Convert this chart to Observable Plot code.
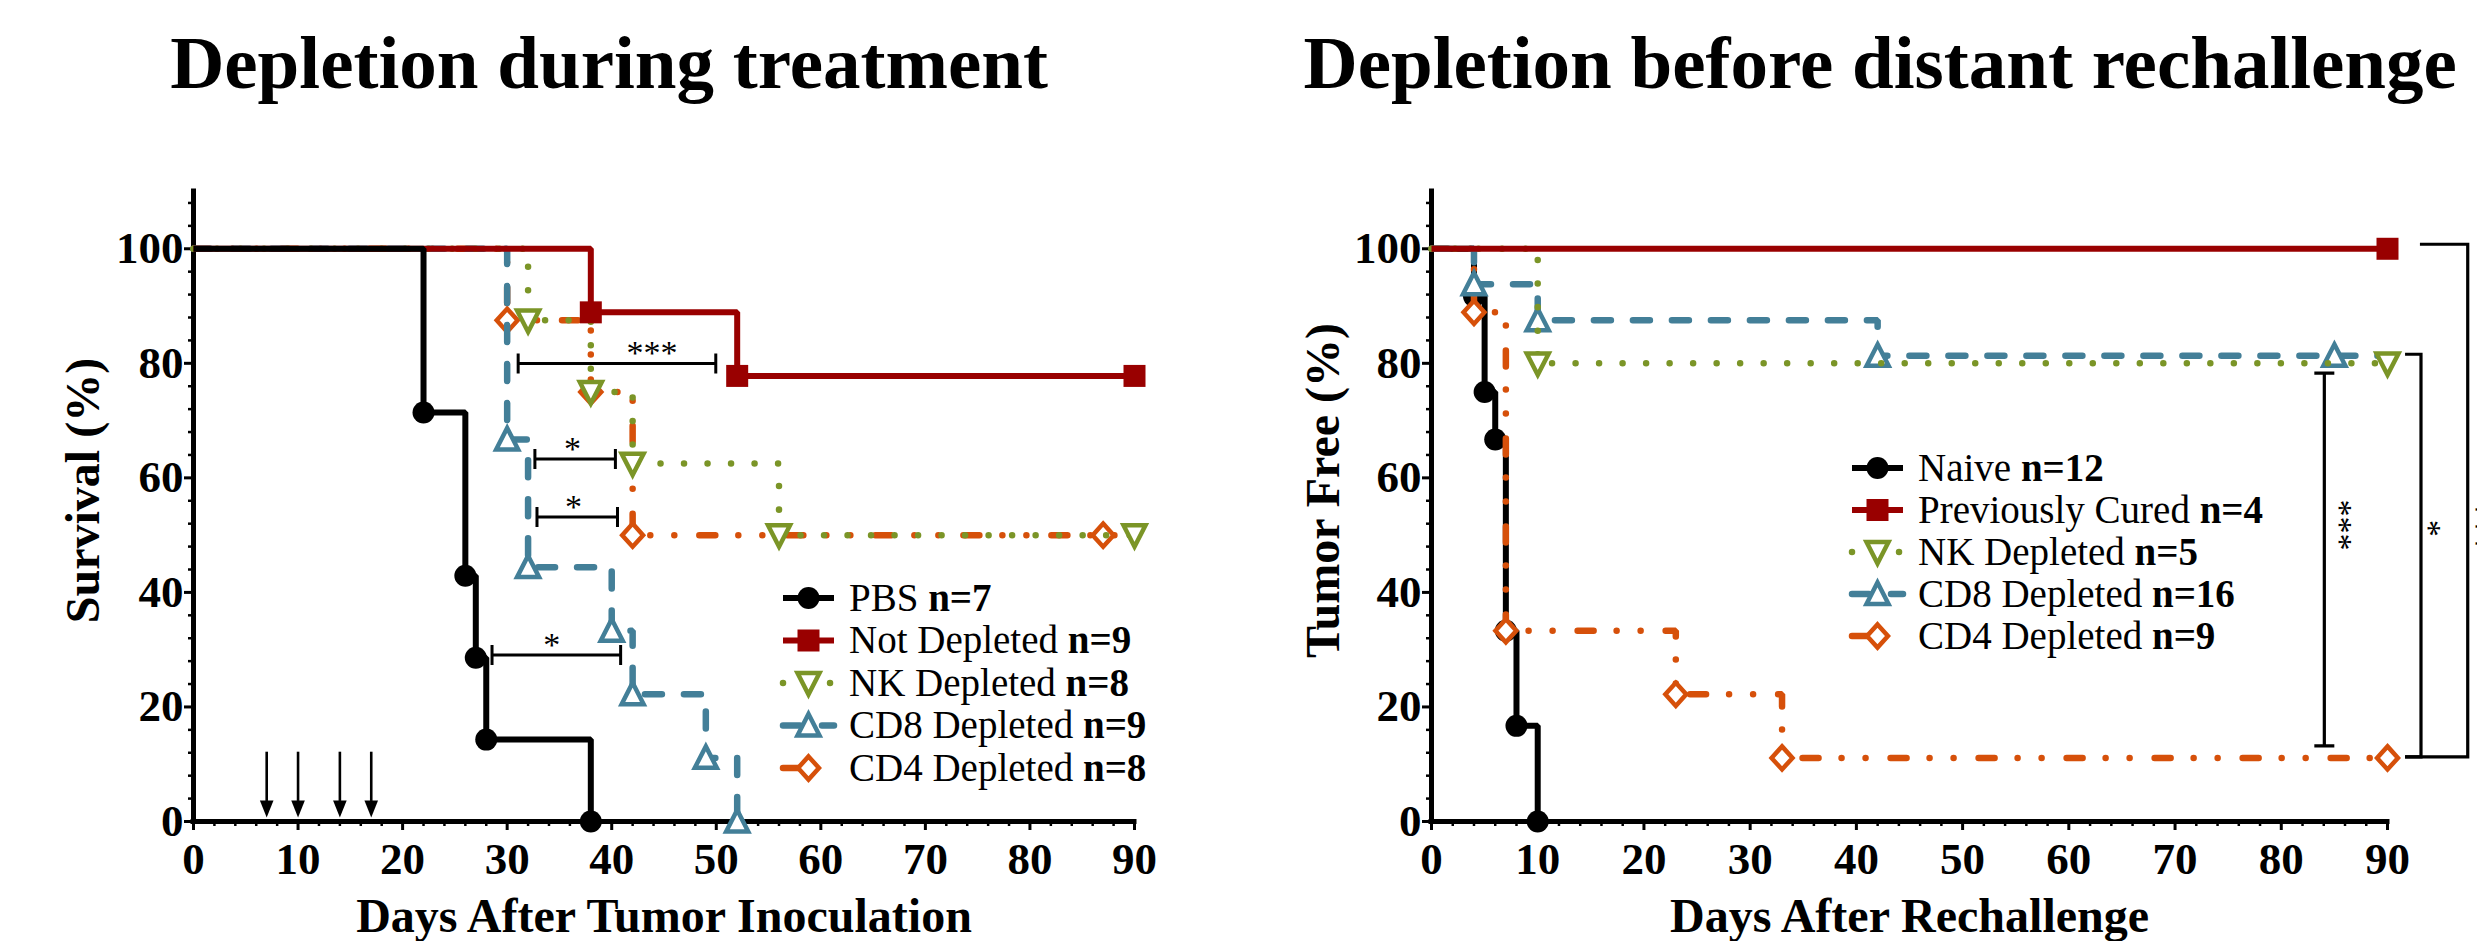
<!DOCTYPE html>
<html>
<head>
<meta charset="utf-8">
<script src="https://cdn.jsdelivr.net/npm/d3@7"></script>
<script src="https://cdn.jsdelivr.net/npm/@observablehq/plot@0.6"></script>
<style>
html, body { margin: 0; padding: 0; background: #fff; }
#wrap { width: 2477px; height: 941px; display: flex; overflow: hidden; background: #fff; }
#wrap svg { display: block; flex: none; }
</style>
</head>
<body>
<div id="wrap"></div>
<script>
// ---------- axis ticks ----------
const xTicks = [0, 10, 20, 30, 40, 50, 60, 70, 80, 90];
const yTicks = [0, 20, 40, 60, 80, 100];
const xMinorTicks = d3.range(0, 91, 2).filter(d => d % 10 !== 0);
const yMinorTicks = d3.range(0, 109, 4).filter(d => d % 20 !== 0);

// ---------- left panel: Depletion during treatment (survival %) ----------
const pbsDays = [0, 22, 26, 27, 28, 38];
const pbsSurvival = [100, 71.4, 42.9, 28.6, 14.3, 0];
const pbsMarkDays = [22, 26, 27, 28, 38];

const notDepDays = [0, 38, 52, 90];
const notDepSurvival = [100, 88.9, 77.8, 77.8];
const notDepMarkDays = [38, 52, 90];

const nkLeftDays = [0, 32, 38, 42, 56, 90];
const nkLeftSurvival = [100, 87.5, 75, 62.5, 50, 50];
const nkLeftMarkDays = [32, 38, 42, 56, 90];

const cd8LeftDays = [0, 30, 32, 40, 42, 49, 52];
const cd8LeftSurvival = [100, 66.7, 44.4, 33.3, 22.2, 11.1, 0];
const cd8LeftMarkDays = [30, 32, 40, 42, 49, 52];

const cd4LeftDays = [0, 30, 38, 42, 87, 90];
const cd4LeftSurvival = [100, 87.5, 75, 50, 50, 50];
const cd4LeftMarkDays = [30, 38, 42, 87];

const treatmentArrowDays = [7, 10, 14, 17];

const leftBracketX1 = [31.1, 32.7, 32.9, 28.6];
const leftBracketX2 = [50.0, 40.4, 40.6, 40.9];
const leftBracketY = [79.9, 63.2, 53.1, 29.0];
const leftBracketLabelX = [43.9, 36.3, 36.4, 34.3];
const leftBracketLabels = ["***", "*", "*", "*"];

// ---------- right panel: Depletion before distant rechallenge (tumor free %) ----------
const naiveDays = [0, 4, 5, 6, 7, 8, 10];
const naiveFree = [100, 91.7, 75, 66.7, 33.3, 16.7, 0];
const naiveMarkDays = [4, 5, 6, 7, 8, 10];

const curedDays = [0, 90];
const curedFree = [100, 100];
const curedMarkDays = [90];

const nkRightDays = [0, 10, 90];
const nkRightFree = [100, 80, 80];
const nkRightMarkDays = [10, 90];

const cd8RightDays = [0, 4, 10, 42, 85, 90];
const cd8RightFree = [100, 93.8, 87.5, 81.3, 81.3, 81.3];
const cd8RightMarkDays = [4, 10, 42, 85];

const cd4RightDays = [0, 4, 7, 23, 33, 90];
const cd4RightFree = [100, 88.9, 33.3, 22.2, 11.1, 11.1];
const cd4RightMarkDays = [4, 7, 23, 33, 90];

const rightBracketSpineX = [84.1, 93.2, 97.6];
const rightBracketTopY = [78.2, 81.5, 100.7];
const rightBracketBottomY = [13.1, 11.2, 11.2];
const rightBracketTopArmX = [null, 91.7, 93.1];
const rightBracketBottomArmX = [null, 91.7, 91.7];
const rightBracketLabelX = [86.1, 94.5, 99.0];
const rightBracketLabelY = [51.7, 51.1, 51.4];
const rightBracketLabels = ["***", "*", "***"];

// ---------- styles ----------
const BLACK = "#000000", RED = "#990000", OLIVE = "#7b9527", BLUE = "#437f98", ORANGE = "#d6500a";
const DOTTED = "0.01 23.5";
const DASHED = "17 22";
const DASHDOTDOT = "16 23 0.01 24 0.01 25";

function rOf(size) { return Math.sqrt(size / Math.PI); }
const symSquare = { draw(c, s) { const r = rOf(s); c.rect(-r, -r, 2 * r, 2 * r); } };
const symUp = { draw(c, s) { const r = rOf(s); c.moveTo(0, -1.05 * r); c.lineTo(r, 0.9 * r); c.lineTo(-r, 0.9 * r); c.closePath(); } };
const symDown = { draw(c, s) { const r = rOf(s); c.moveTo(0, 1.05 * r); c.lineTo(r, -0.9 * r); c.lineTo(-r, -0.9 * r); c.closePath(); } };
const symDiamond = { draw(c, s) { const r = rOf(s); c.moveTo(0, -1.05 * r); c.lineTo(0.95 * r, 0); c.lineTo(0, 1.05 * r); c.lineTo(-0.95 * r, 0); c.closePath(); } };
const symArrowHead = { draw(c, s) { const r = rOf(s); c.moveTo(0, r); c.lineTo(0.8 * r, -r); c.lineTo(-0.8 * r, -r); c.closePath(); } };

function mk(label, n, days, values, marks, color, dash, symbol, open, width, halfLegend) {
  return { label, n, days, values, marks, color, dash, symbol, open, width, halfLegend };
}

const sPBS = mk("PBS", "n=7", pbsDays, pbsSurvival, pbsMarkDays, BLACK, null, d3.symbolCircle, false, 6);
const sNotDep = mk("Not Depleted", "n=9", notDepDays, notDepSurvival, notDepMarkDays, RED, null, symSquare, false, 6);
const sNKL = mk("NK Depleted", "n=8", nkLeftDays, nkLeftSurvival, nkLeftMarkDays, OLIVE, DOTTED, symDown, true, 6.5);
const sCD8L = mk("CD8 Depleted", "n=9", cd8LeftDays, cd8LeftSurvival, cd8LeftMarkDays, BLUE, DASHED, symUp, true, 6.5);
const sCD4L = mk("CD4 Depleted", "n=8", cd4LeftDays, cd4LeftSurvival, cd4LeftMarkDays, ORANGE, DASHDOTDOT, symDiamond, true, 6.5, true);

const sNaive = mk("Naive", "n=12", naiveDays, naiveFree, naiveMarkDays, BLACK, null, d3.symbolCircle, false, 6);
const sCured = mk("Previously Cured", "n=4", curedDays, curedFree, curedMarkDays, RED, null, symSquare, false, 6);
const sNKR = mk("NK Depleted", "n=5", nkRightDays, nkRightFree, nkRightMarkDays, OLIVE, DOTTED, symDown, true, 6.5);
const sCD8R = mk("CD8 Depleted", "n=16", cd8RightDays, cd8RightFree, cd8RightMarkDays, BLUE, DASHED, symUp, true, 6.5);
const sCD4R = mk("CD4 Depleted", "n=9", cd4RightDays, cd4RightFree, cd4RightMarkDays, ORANGE, DASHDOTDOT, symDiamond, true, 6.5, true);

const MARK_R = 11;

function seriesMarks(s) {
  const line = s.days.map((d, i) => ({ day: d, value: s.values[i] }));
  const pts = s.marks.map(d => ({ day: d, value: s.values[s.days.indexOf(d)] }));
  return [
    Plot.line(line, {
      x: "day", y: "value", curve: "step-after",
      stroke: s.color, strokeWidth: s.width,
      strokeDasharray: s.dash || undefined,
      strokeLinecap: s.dash ? "round" : "butt", strokeLinejoin: "miter"
    }),
    Plot.dot(pts, {
      x: "day", y: "value", symbol: s.symbol, r: MARK_R,
      fill: s.open ? "white" : s.color,
      stroke: s.open ? s.color : "none",
      strokeWidth: s.open ? 4.5 : 0
    })
  ];
}

function axisMarks() {
  return [
    Plot.axisX({ ticks: xMinorTicks, tickSize: 5, tickFormat: () => "", strokeWidth: 2.5, label: null }),
    Plot.axisX({ ticks: xTicks, tickSize: 9, tickPadding: 12, tickFormat: d => `${d}`, fontSize: 45, fontWeight: "bold", strokeWidth: 3, label: null }),
    Plot.axisY({ ticks: yMinorTicks, tickSize: 5, tickFormat: () => "", strokeWidth: 2.5, label: null }),
    Plot.axisY({ ticks: yTicks, tickSize: 9, tickPadding: 1, tickFormat: d => `${d}`, fontSize: 45, fontWeight: "bold", strokeWidth: 3, label: null }),
    Plot.ruleY([0], { x1: 0, x2: 90, strokeWidth: 5, strokeLinecap: "square" }),
    Plot.ruleX([0], { y1: 0, y2: 110, strokeWidth: 5, strokeLinecap: "square" })
  ];
}

function legendMark(order, x0, y0, step) {
  return () => {
    const g = d3.create("svg:g");
    order.forEach((s, i) => {
      const cy = y0 + i * step;
      const xEnd = s.halfLegend ? x0 + 25.5 : x0 + 51;
      g.append("line")
        .attr("x1", x0).attr("x2", xEnd).attr("y1", cy).attr("y2", cy)
        .attr("stroke", s.color).attr("stroke-width", s.width)
        .attr("stroke-dasharray", s.dash)
        .attr("stroke-linecap", s.dash ? "round" : "butt");
      g.append("path")
        .attr("d", d3.symbol(s.symbol, Math.PI * MARK_R * MARK_R)())
        .attr("transform", `translate(${x0 + 25.5},${cy})`)
        .attr("fill", s.open ? "white" : s.color)
        .attr("stroke", s.open ? s.color : "none")
        .attr("stroke-width", s.open ? 4.5 : 0);
      const t = g.append("text")
        .attr("x", x0 + 66).attr("y", cy + 12.7)
        .attr("text-anchor", "start")
        .attr("font-size", 39).attr("fill", "black");
      t.append("tspan").text(s.label + " ");
      t.append("tspan").attr("font-weight", "bold").text(s.n);
    });
    return g.node();
  };
}

function leftBracketMark() {
  return (index, scales) => {
    const { x, y } = scales;
    const g = d3.create("svg:g");
    leftBracketY.forEach((v, i) => {
      const a = x(leftBracketX1[i]), b = x(leftBracketX2[i]), py = y(v);
      g.append("path")
        .attr("d", `M${a},${py}H${b}M${a},${py - 10}V${py + 10}M${b},${py - 10}V${py + 10}`)
        .attr("stroke", "black").attr("stroke-width", 3).attr("fill", "none");
      g.append("text")
        .attr("x", x(leftBracketLabelX[i])).attr("y", py + 1)
        .attr("text-anchor", "middle").attr("font-size", 34).attr("fill", "black")
        .text(leftBracketLabels[i]);
    });
    return g.node();
  };
}

function rightBracketMark() {
  return (index, scales) => {
    const { x, y } = scales;
    const g = d3.create("svg:g");
    rightBracketSpineX.forEach((sx, i) => {
      const px = x(sx), top = y(rightBracketTopY[i]), bot = y(rightBracketBottomY[i]);
      let d;
      if (rightBracketTopArmX[i] == null) {
        d = `M${px},${top}V${bot}M${px - 10},${top}H${px + 10}M${px - 10},${bot}H${px + 10}`;
      } else {
        d = `M${x(rightBracketTopArmX[i])},${top}H${px}V${bot}H${x(rightBracketBottomArmX[i])}`;
      }
      g.append("path").attr("d", d)
        .attr("stroke", "black").attr("stroke-width", 3.2).attr("fill", "none");
      g.append("text")
        .attr("transform", `translate(${x(rightBracketLabelX[i])},${y(rightBracketLabelY[i])}) rotate(90)`)
        .attr("dy", "0.5em")
        .attr("text-anchor", "middle").attr("font-size", 34).attr("fill", "black")
        .text(rightBracketLabels[i]);
    });
    return g.node();
  };
}

const FONT = "'Liberation Serif', 'Times New Roman', serif";

function panel({ width, marginRight, series, legendOrder, legend, title, titleAnchor, titleDx, yLabel, yLabelDx, xLabel, extra }) {
  return Plot.plot({
    width, height: 941,
    marginLeft: 193, marginRight, marginTop: 191, marginBottom: 120,
    x: { domain: [0, 90] },
    y: { domain: [0, 110] },
    style: { fontFamily: FONT, background: "white", overflow: "hidden", maxWidth: "none" },
    marks: [
      ...axisMarks(),
      ...extra,
      ...series.flatMap(seriesMarks),
      legendMark(legendOrder, legend[0], legend[1], legend[2]),
      Plot.text([title], { frameAnchor: titleAnchor, textAnchor: titleAnchor === "top" ? "middle" : "start", dx: titleDx, dy: -127.5, fontSize: 75, fontWeight: "bold", lineAnchor: "middle", fill: "black" }),
      Plot.text([xLabel], { frameAnchor: "bottom", textAnchor: "middle", dy: 95.6, fontSize: 48, fontWeight: "bold", lineAnchor: "middle", fill: "black" }),
      Plot.text([yLabel], { frameAnchor: "left", textAnchor: "middle", dx: yLabelDx, dy: -16, rotate: -90, fontSize: 48, fontWeight: "bold", lineAnchor: "middle", fill: "black" })
    ]
  });
}

const left = panel({
  width: 1238, marginRight: 104,
  series: [sCD4L, sCD8L, sNKL, sNotDep, sPBS],
  legendOrder: [sPBS, sNotDep, sNKL, sCD8L, sCD4L],
  legend: [783, 598, 42.5],
  title: "Depletion during treatment", titleAnchor: "top", titleDx: -55,
  yLabel: "Survival (%)", yLabelDx: -110,
  xLabel: "Days After Tumor Inoculation",
  extra: [
    Plot.ruleX(treatmentArrowDays, { x: d => d, y1: 12.1, y2: 3.5, strokeWidth: 2.6 }),
    Plot.dot(treatmentArrowDays, { x: d => d, y: 2.2, symbol: symArrowHead, r: 8.5, fill: "black", stroke: "none" }),
    leftBracketMark()
  ]
});

const right = panel({
  width: 1239, marginRight: 90,
  series: [sNaive, sCD4R, sCD8R, sNKR, sCured],
  legendOrder: [sNaive, sCured, sNKR, sCD8R, sCD4R],
  legend: [614, 468, 42],
  title: "Depletion before distant rechallenge", titleAnchor: "top-left", titleDx: -128,
  yLabel: "Tumor Free (%)", yLabelDx: -108,
  xLabel: "Days After Rechallenge",
  extra: [rightBracketMark()]
});

document.getElementById("wrap").append(left, right);
</script>
</body>
</html>
